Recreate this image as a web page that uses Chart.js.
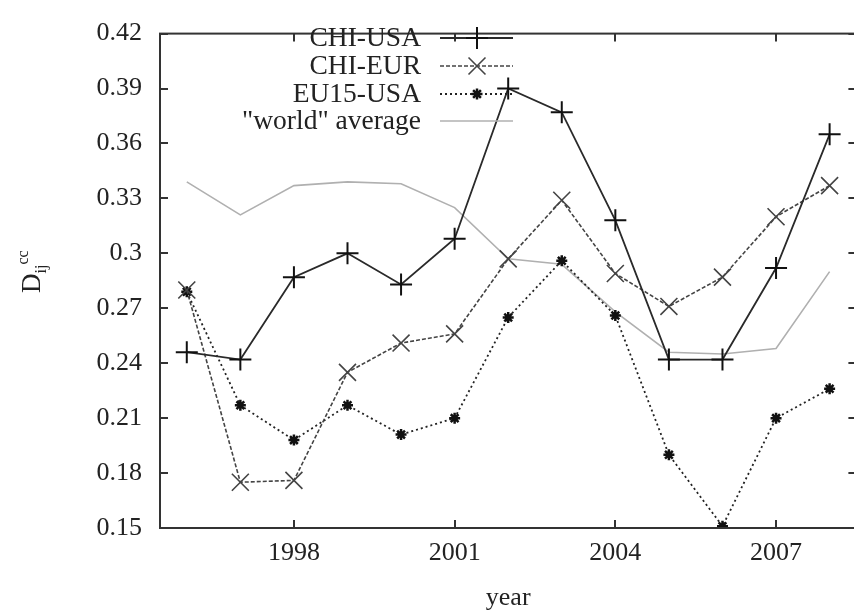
<!DOCTYPE html>
<html>
<head>
<meta charset="utf-8">
<script src="https://cdn.jsdelivr.net/npm/chart.js@4/dist/chart.umd.min.js"></script>
<style>
  html, body { margin: 0; padding: 0; background: #fff; overflow: hidden; }
  canvas { display: block; }
</style>
</head>
<body>
<canvas id="chart" width="870" height="613"></canvas>
<script>
// values
const years = [1996, 1997, 1998, 1999, 2000, 2001, 2002, 2003, 2004, 2005, 2006, 2007, 2008];
const chiUsa = [0.246, 0.242, 0.287, 0.300, 0.283, 0.308, 0.390, 0.377, 0.318, 0.242, 0.242, 0.292, 0.365];
const chiEur = [0.280, 0.175, 0.176, 0.235, 0.251, 0.256, 0.297, 0.329, 0.289, 0.271, 0.287, 0.320, 0.337];
const eu15Usa = [0.279, 0.217, 0.198, 0.217, 0.201, 0.210, 0.265, 0.296, 0.266, 0.190, 0.151, 0.210, 0.226];
const worldAvg = [0.339, 0.321, 0.337, 0.339, 0.338, 0.325, 0.297, 0.294, 0.268, 0.246, 0.245, 0.248, 0.290];
const seriesNames = ['CHI-USA', 'CHI-EUR', 'EU15-USA', '"world" average'];
const xTicks = [1998, 2001, 2004, 2007];
const yTicks = [0.15, 0.18, 0.21, 0.24, 0.27, 0.3, 0.33, 0.36, 0.39, 0.42];

const FONT = '"Liberation Serif", "DejaVu Serif", serif';
const toPoints = vals => vals.map((v, i) => ({ x: years[i], y: v }));

// gnuplot style frame with inward ticks on all four sides
const framePlugin = {
    id: 'frame',
    afterDraw(chart) {
        const { ctx, chartArea: a, scales } = chart;
        const len = 8;
        ctx.save();
        ctx.strokeStyle = '#333';
        ctx.lineWidth = 2;
        ctx.strokeRect(a.left, a.top, a.right - a.left, a.bottom - a.top);
        ctx.beginPath();
        yTicks.forEach(v => {
            const py = Math.round(scales.y.getPixelForValue(v));
            ctx.moveTo(a.left, py); ctx.lineTo(a.left + len, py);
            ctx.moveTo(a.right, py); ctx.lineTo(a.right - len, py);
        });
        xTicks.forEach(v => {
            const px = Math.round(scales.x.getPixelForValue(v));
            ctx.moveTo(px, a.bottom); ctx.lineTo(px, a.bottom - len);
            ctx.moveTo(px, a.top); ctx.lineTo(px, a.top + len);
        });
        ctx.stroke();

        // axis titles
        ctx.fillStyle = '#222';
        ctx.font = '26px ' + FONT;
        ctx.textAlign = 'center';
        ctx.textBaseline = 'middle';
        ctx.fillText('year', (a.left + a.right) / 2, 598);

        ctx.save();
        ctx.translate(40, 293);
        ctx.rotate(-Math.PI / 2);
        ctx.textAlign = 'left';
        ctx.textBaseline = 'alphabetic';
        ctx.font = '27px ' + FONT;
        ctx.fillText('D', 0, 0);
        let x = ctx.measureText('D').width;
        ctx.font = '16px ' + FONT;
        ctx.fillText('ij', x, 6);
        x += ctx.measureText('ij').width;
        ctx.fillText('cc', x, -12);
        ctx.restore();

        // key, top left, text right aligned
        const rows = [38, 66, 94, 121];
        chart.data.datasets.forEach((ds, i) => {
            const y = rows[i];
            ctx.fillStyle = '#222';
            ctx.font = '27.5px ' + FONT;
            ctx.textAlign = 'right';
            ctx.textBaseline = 'middle';
            ctx.fillText(ds.label, 421, y + 1);
            ctx.save();
            ctx.strokeStyle = ds.borderColor;
            ctx.lineWidth = ds.borderWidth;
            ctx.setLineDash(ds.borderDash || []);
            ctx.beginPath();
            ctx.moveTo(440, y);
            ctx.lineTo(513, y);
            ctx.stroke();
            ctx.restore();
            if (ds.pointRadius > 0) {
                ctx.save();
                ctx.strokeStyle = ds.pointBorderColor;
                ctx.fillStyle = ds.pointBorderColor;
                ctx.lineWidth = ds.pointBorderWidth;
                Chart.helpers.drawPoint(ctx, {
                    pointStyle: ds.pointStyle,
                    radius: ds.pointRadius,
                    rotation: 0,
                    borderWidth: ds.pointBorderWidth
                }, 477, y);
                ctx.restore();
            }
        });
        ctx.restore();
    }
};

const ctx = document.getElementById('chart').getContext('2d');
new Chart(ctx, {
    type: 'line',
    data: {
        datasets: [
            {
                label: seriesNames[0],
                data: toPoints(chiUsa),
                borderColor: '#2a2a2a',
                borderWidth: 1.8,
                pointStyle: 'cross',
                pointRadius: 11,
                pointBorderWidth: 2,
                pointBorderColor: '#111',
                pointBackgroundColor: '#111'
            },
            {
                label: seriesNames[1],
                data: toPoints(chiEur),
                borderColor: '#444',
                borderWidth: 1.6,
                borderDash: [4, 2],
                pointStyle: 'crossRot',
                pointRadius: 12,
                pointBorderWidth: 1.6,
                pointBorderColor: '#444',
                pointBackgroundColor: '#444'
            },
            {
                label: seriesNames[2],
                data: toPoints(eu15Usa),
                borderColor: '#222',
                borderWidth: 1.8,
                borderDash: [2, 3],
                pointStyle: 'star',
                pointRadius: 5.5,
                pointBorderWidth: 2.5,
                pointBorderColor: '#111',
                pointBackgroundColor: '#111'
            },
            {
                label: seriesNames[3],
                data: toPoints(worldAvg),
                borderColor: '#b0b0b0',
                borderWidth: 1.6,
                pointRadius: 0
            }
        ]
    },
    options: {
        responsive: false,
        animation: false,
        layout: { padding: { left: 0, top: 16, right: 12, bottom: 0 } },
        plugins: { legend: { display: false }, tooltip: { enabled: false } },
        elements: { line: { tension: 0, fill: false } },
        scales: {
            x: {
                type: 'linear',
                min: 1995.5,
                max: 2008.5,
                grid: { display: false, drawTicks: false },
                border: { display: false },
                afterBuildTicks: scale => { scale.ticks = xTicks.map(v => ({ value: v })); },
                afterFit: scale => { scale.height = 85; },
                ticks: {
                    autoSkip: false,
                    maxRotation: 0,
                    padding: 10,
                    color: '#222',
                    font: { family: FONT, size: 26 },
                    callback: v => String(v)
                }
            },
            y: {
                min: 0.15,
                max: 0.42,
                grid: { display: false, drawTicks: false },
                border: { display: false },
                afterBuildTicks: scale => { scale.ticks = yTicks.map(v => ({ value: v })); },
                afterFit: scale => { scale.width = 160; },
                ticks: {
                    autoSkip: false,
                    padding: 18,
                    color: '#222',
                    font: { family: FONT, size: 26 },
                    callback: v => String(v)
                }
            }
        }
    },
    plugins: [framePlugin]
});
</script>
</body>
</html>
